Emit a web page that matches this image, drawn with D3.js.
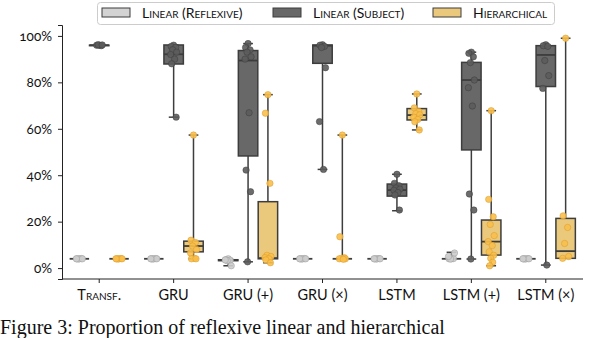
<!DOCTYPE html>
<html>
<head>
<meta charset="utf-8">
<script src="https://cdn.jsdelivr.net/npm/d3@7"></script>
<style>
  html, body { margin: 0; padding: 0; background: #fff; overflow: hidden; }
  svg { display: block; }
  .sc { font-family: Lato, "Open Sans", sans-serif; font-variant: small-caps; }
  .num { font-family: Lato, "Open Sans", sans-serif; font-variant-numeric: oldstyle-nums; }
</style>
</head>
<body>
<svg id="chart" width="592" height="338"></svg>
<script>
const W = 592, H = 338;

// categories
const models = ["Transf.", "GRU", "GRU (+)", "GRU (×)", "LSTM", "LSTM (+)", "LSTM (×)"];
const conditions = ["Linear (Reflexive)", "Linear (Subject)", "Hierarchical"];
const yTicks = [0, 20, 40, 60, 80, 100];

// box stats per model: [whisker low, q1, median, q3, whisker high] (in %)
const reflexiveBoxes = [
  [4, 4, 4, 4, 4],
  [4, 4, 4, 4, 4],
  [1, 3.2, 3.4, 3.6, 4],
  [4, 4, 4, 4, 4],
  [4, 4, 4, 4, 4],
  [4, 4, 4, 4, 6.8],
  [4, 4, 4, 4, 4]
];
const subjectBoxes = [
  [95.8, 95.8, 96, 96, 96.2],
  [65, 87.9, 92.1, 96.1, 96.1],
  [2.7, 48.3, 89.4, 93.7, 96.7],
  [42.5, 88.2, 95.8, 96.1, 96.1],
  [24.7, 31, 33.6, 36.2, 40.4],
  [3.9, 50.9, 81, 88.6, 93],
  [1.3, 78.2, 91.8, 95.8, 95.8]
];
const hierBoxes = [
  [4, 4, 4, 4, 4],
  [4, 7, 9.5, 11.6, 57.3],
  [2.3, 4, 4.3, 28.6, 74.7],
  [4, 4, 4, 4, 57.3],
  [59.5, 63.8, 65.9, 68.7, 75],
  [1, 5.6, 11.4, 20.7, 67.8],
  [4.2, 4.2, 7.3, 21.4, 99]
];

// individual runs (strip points), in %
const reflexivePoints = [
  [4, 4, 4.1, 3.9, 4, 4],
  [4, 4, 4.1, 3.9, 4, 4],
  [4, 3.6, 3.4, 3.2, 1, 3.5],
  [4, 4, 4.1, 3.9, 4, 4],
  [4, 4, 4.1, 3.9, 4, 4],
  [4, 4, 4.1, 3.9, 6.5, 5],
  [4, 4, 4.1, 3.9, 4, 4]
];
const subjectPoints = [
  [96, 96, 95.8, 96.2, 96.1],
  [96, 95.5, 95, 94, 93, 92, 90, 88, 65],
  [96.7, 95, 94, 93, 91, 90, 66.9, 42.2, 32.9, 2.7],
  [96.2, 96, 95.5, 95, 86.3, 63.1, 42.5],
  [40.4, 36.5, 35.5, 34.5, 34, 33.5, 32.5, 31.5, 25],
  [93, 92.5, 91, 88.5, 81, 77.7, 69.8, 31.9, 25, 3.9],
  [96.2, 95.8, 95.5, 89.4, 82.9, 77.4, 1.3]
];
const hierPoints = [
  [4, 4, 4.1, 3.9, 4, 4],
  [57.3, 12, 11, 9.5, 8, 6.5, 4.2, 4, 4],
  [74.7, 66.7, 36.5, 5.5, 5, 4.5, 4, 3.5, 2.3],
  [57.3, 13.5, 4.5, 4.2, 4, 4, 3.8],
  [75, 69, 67.5, 66.5, 66, 65, 64, 63, 59.5],
  [67.8, 29.6, 22.1, 18.8, 14, 11.4, 9.7, 7, 5.5, 4.2, 2.5, 1],
  [99, 22.5, 17.5, 10.6, 5, 4.2]
];

const boxFill = ["#d3d3d3", "#686868", "#ebc97c"];
const dotFill = ["#cdcdcd", "#5c5c5c", "#f9bf4b"];
const dotStroke = ["#9a9a9a", "#3c3c3c", "#d99a2b"];
const edge = "#3d3d3d";
const jitter = [0, -2.5, 2, -1, 3, -3, 1, -2, 2.5, -0.5, 1.5, -1.5];

const svg = d3.select("#chart");

const x = d3.scaleBand().domain(models).range([62, 583]);
const hue = d3.scaleBand().domain(conditions)
  .range([-0.4 * x.bandwidth(), 0.4 * x.bandwidth()]);
const y = d3.scaleLinear().domain([-4.7, 104.7]).range([279, 25]);

// axes
const yAxis = svg.append("g")
  .attr("transform", "translate(62,0)")
  .call(d3.axisLeft(y).tickValues(yTicks).tickFormat(d => d + "%").tickSize(4).tickPadding(6));
yAxis.select(".domain").attr("stroke", "#222").attr("stroke-width", 1);
yAxis.selectAll(".tick line").attr("stroke", "#222");
yAxis.selectAll("text").attr("class", "num").attr("font-size", 13.5).attr("fill", "#111");

const xAxis = svg.append("g")
  .attr("transform", "translate(0,279)")
  .call(d3.axisBottom(x).tickSize(4).tickPadding(7).tickSizeOuter(0));
xAxis.select(".domain").attr("stroke", "#222").attr("stroke-width", 1)
  .attr("d", "M62,0H583");
xAxis.selectAll(".tick line").attr("stroke", "#222");
xAxis.selectAll("text").attr("class", "sc").attr("font-size", 14.5).attr("fill", "#111");

// boxes
const allBoxes = [reflexiveBoxes, subjectBoxes, hierBoxes];
const allPoints = [reflexivePoints, subjectPoints, hierPoints];
const bw = hue.bandwidth() * 0.98;

const plot = svg.append("g");

conditions.forEach((c, ci) => {
  models.forEach((m, mi) => {
    const [lo, q1, med, q3, hi] = allBoxes[ci][mi];
    const cx = x(m) + x.bandwidth() / 2 + hue(c) + hue.bandwidth() / 2;
    const g = plot.append("g");
    // whiskers
    g.append("line").attr("x1", cx).attr("x2", cx).attr("y1", y(q3)).attr("y2", y(hi))
      .attr("stroke", edge).attr("stroke-width", 1.5);
    g.append("line").attr("x1", cx).attr("x2", cx).attr("y1", y(q1)).attr("y2", y(lo))
      .attr("stroke", edge).attr("stroke-width", 1.5);
    [lo, hi].forEach(v => {
      g.append("line").attr("x1", cx - bw / 4).attr("x2", cx + bw / 4)
        .attr("y1", y(v)).attr("y2", y(v))
        .attr("stroke", edge).attr("stroke-width", 1.5);
    });
    // box
    g.append("rect")
      .attr("x", cx - bw / 2).attr("width", bw)
      .attr("y", y(q3)).attr("height", Math.max(0, y(q1) - y(q3)))
      .attr("fill", boxFill[ci]).attr("stroke", edge).attr("stroke-width", 1.5);
    // median
    g.append("line").attr("x1", cx - bw / 2).attr("x2", cx + bw / 2)
      .attr("y1", y(med)).attr("y2", y(med))
      .attr("stroke", edge).attr("stroke-width", 1.8);

    // points
    g.selectAll("circle").data(allPoints[ci][mi]).join("circle")
      .attr("cx", (d, i) => cx + jitter[i % jitter.length])
      .attr("cy", d => y(d))
      .attr("r", 3.2)
      .attr("fill", dotFill[ci])
      .attr("fill-opacity", 0.9)
      .attr("stroke", dotStroke[ci])
      .attr("stroke-width", 0.5);
  });
});

// legend
const legend = svg.append("g");
legend.append("rect")
  .attr("x", 97.5).attr("y", 2.5).attr("width", 457).attr("height", 22)
  .attr("rx", 3).attr("fill", "#fff").attr("fill-opacity", 0.85)
  .attr("stroke", "#cccccc").attr("stroke-width", 1);
const legendX = [102, 273, 433];
conditions.forEach((c, ci) => {
  legend.append("rect")
    .attr("x", legendX[ci]).attr("y", 8).attr("width", 28).attr("height", 9)
    .attr("fill", boxFill[ci]).attr("stroke", edge).attr("stroke-width", 1);
  legend.append("text")
    .attr("class", "sc")
    .attr("x", legendX[ci] + 40).attr("y", 17.5)
    .attr("font-size", 14).attr("fill", "#111")
    .text(c);
});

// caption line under the figure
svg.append("text")
  .attr("x", 0).attr("y", 334)
  .attr("font-family", "'Liberation Serif', serif")
  .attr("font-size", 20).attr("fill", "#111")
  .text("Figure 3: Proportion of reflexive linear and hierarchical");
</script>
</body>
</html>
